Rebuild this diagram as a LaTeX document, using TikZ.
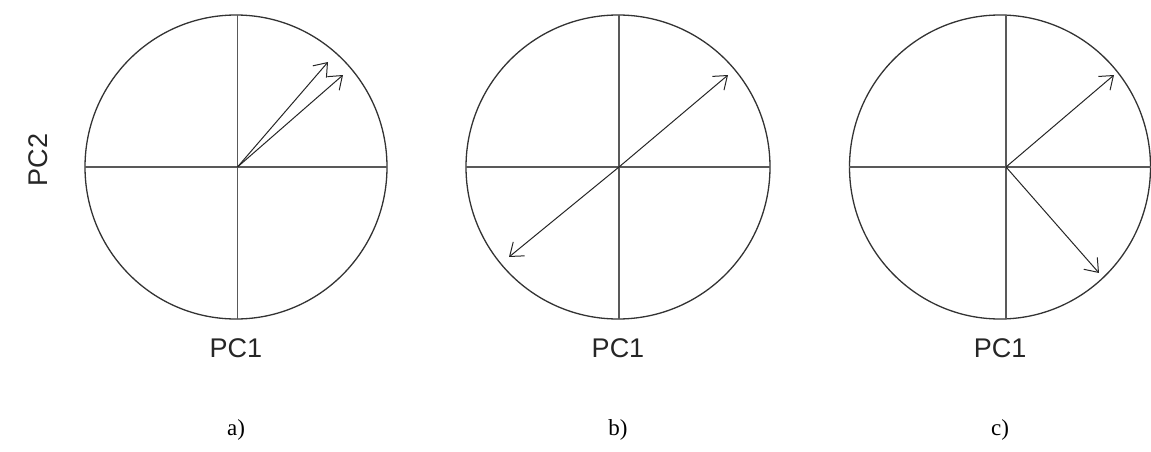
\documentclass[tikz,border=0pt]{standalone}
\usepackage{fontspec}
\setmainfont{Liberation Serif}
\newfontfamily\arial{Liberation Sans}
\usetikzlibrary{arrows.meta}
\begin{document}
\begin{tikzpicture}[x=1pt,y=-1pt,
  rim/.style={draw=black!80,line width=1.3pt},
  axis/.style={draw=black!65,line width=1.6pt},
  vec/.style={draw=black!85,line width=1pt,-{Straight Barb[length=12pt,width=18pt,line width=1pt]}},
  pclab/.style={font=\arial\fontsize{27}{27}\selectfont,text=black!85},
  sublab/.style={font=\fontsize{23}{23}\selectfont}]
\useasboundingbox (0,0) rectangle (1151,452);
% panel a
\draw[rim] (236,167) ellipse [x radius=151, y radius=152];
\coordinate (oa) at (237.5,167);
\draw[axis] (237.5,15) -- (237.5,319);
\draw[axis] (85,167) -- (387,167);
\coordinate (a1) at (328,62);
\coordinate (a2) at (343,75);
\draw[vec] (oa) -- (a1);
\draw[vec] (oa) -- (a2);
% panel b
\draw[rim] (618,167) circle [radius=152];
\coordinate (ob) at (619,167);
\draw[axis] (619,15) -- (619,319);
\draw[axis] (466,167) -- (770,167);
\coordinate (b1) at (728,75);
\coordinate (b2) at (509,257);
\draw[vec] (ob) -- (b1);
\draw[vec] (ob) -- (b2);
% panel c
\draw[rim] (1000,167) ellipse [x radius=150.5, y radius=152];
\coordinate (oc) at (1006,167);
\draw[axis] (1006,15) -- (1006,319);
\draw[axis] (849,167) -- (1150.5,167);
\coordinate (c1) at (1114,75);
\coordinate (c2) at (1099,273);
\draw[vec] (oc) -- (c1);
\draw[vec] (oc) -- (c2);
% labels
\node[pclab,rotate=90] (pc2) at (38,160) {PC2};
\node[pclab] (pca) at (236,348) {PC1};
\node[pclab] (pcb) at (618,348) {PC1};
\node[pclab] (pcc) at (1000,348) {PC1};
\node[sublab] (la) at (236,430) {a)};
\node[sublab] (lb) at (618,430) {b)};
\node[sublab] (lc) at (1000,430) {c)};
\end{tikzpicture}
\end{document}
